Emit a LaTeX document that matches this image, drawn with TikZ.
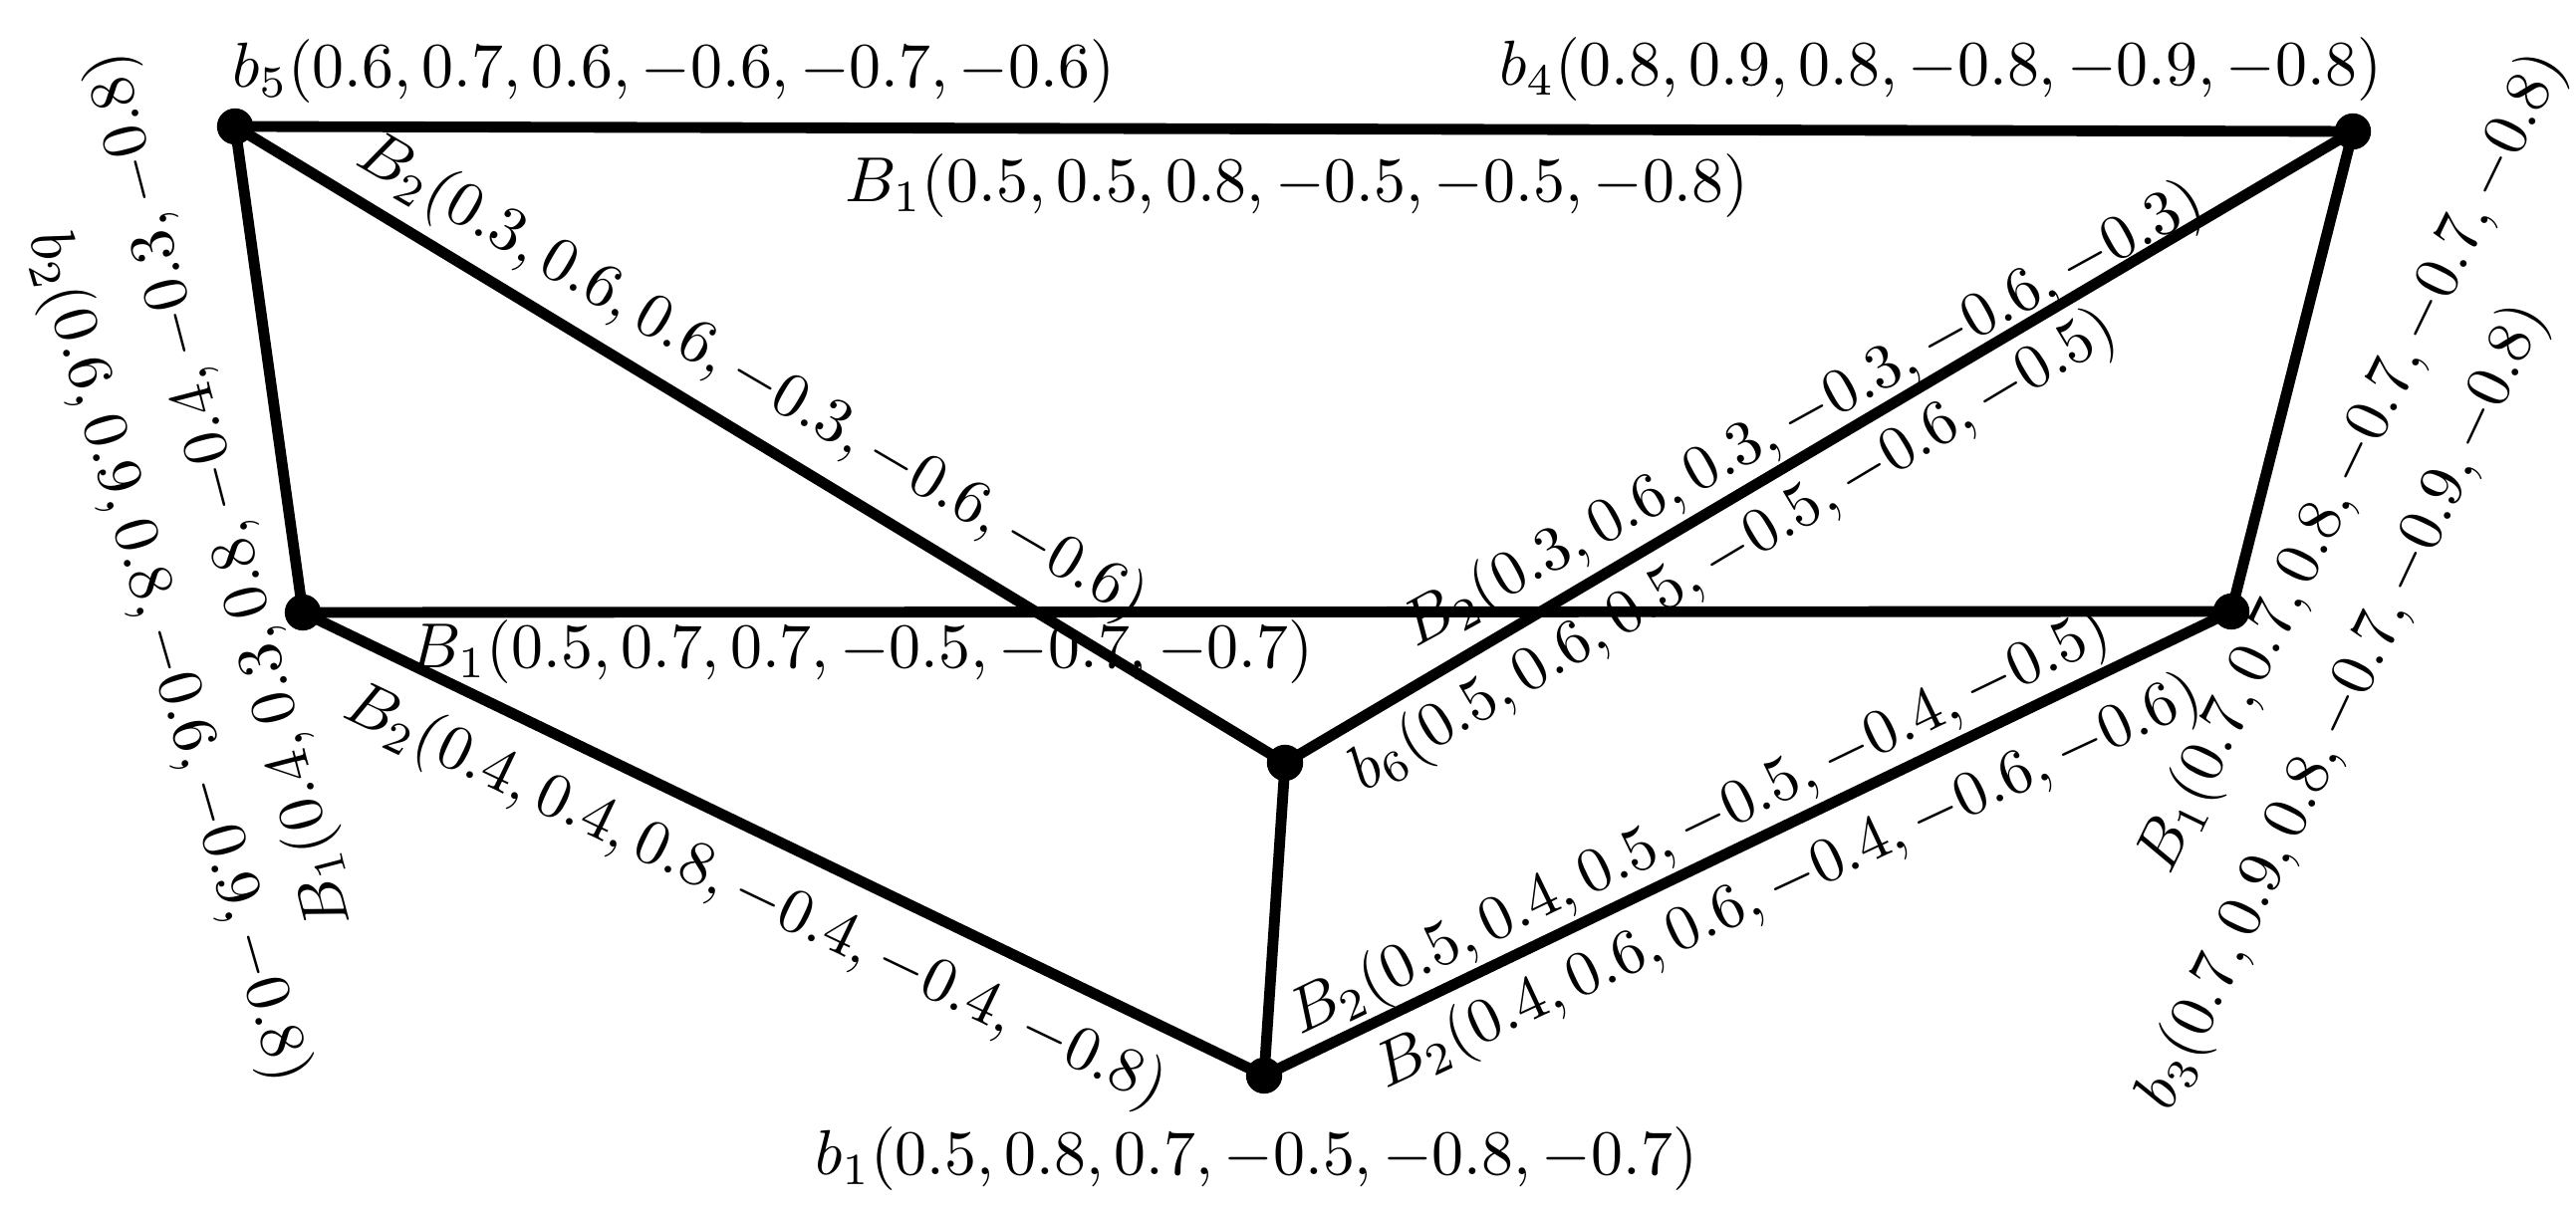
\documentclass[tikz,border=0pt]{standalone}
\begin{document}
\begin{tikzpicture}[x=0.1567pt,y=-0.1567pt,
  edge/.style={line width=1.7pt},
  dot/.style={circle,fill=black,inner sep=0pt,minimum size=5.7pt},
  lab/.style={inner sep=0pt}]
\useasboundingbox (0,0) rectangle (2586,1214);
% vertices
\node[dot] (b5) at (236,127) {};
\node[dot] (b4) at (2362,132) {};
\node[dot] (b2) at (304,615) {};
\node[dot] (b3) at (2240,614) {};
\node[dot] (b6) at (1290,766) {};
\node[dot] (b1) at (1269,1080) {};
% edges
\draw[edge] (b5.center) -- (b4.center);
\draw[edge] (b5.center) -- (b2.center);
\draw[edge] (b5.center) -- (b6.center);
\draw[edge] (b4.center) -- (b6.center);
\draw[edge] (b4.center) -- (b3.center);
\draw[edge] (b2.center) -- (b3.center);
\draw[edge] (b2.center) -- (b1.center);
\draw[edge] (b1.center) -- (b6.center);
\draw[edge] (b1.center) -- (b3.center);
% vertex labels
\node[lab] (l5) at (676,72) {$b_5(0.6, 0.7, 0.6, -0.6, -0.7, -0.6)$};
\node[lab] (l4) at (1948,70) {$b_4(0.8, 0.9, 0.8, -0.8, -0.9, -0.8)$};
\node[lab] (l1) at (1261,1164) {$b_1(0.5, 0.8, 0.7, -0.5, -0.8, -0.7)$};
\node[lab,rotate=30.9] (l6) at (1741,554) {$b_6(0.5, 0.6, 0.5, -0.5, -0.6, -0.5)$};
\node[lab,rotate=-73.9] (l2) at (168,660) {$b_2(0.6, 0.9, 0.8, -0.6, -0.9, -0.8)$};
\node[lab,rotate=64.8] (l3) at (2353,710) {$b_3(0.7, 0.9, 0.8, -0.7, -0.9, -0.8)$};
% edge labels
\node[lab] (e54) at (1302,187) {$B_1(0.5, 0.5, 0.8, -0.5, -0.5, -0.8)$};
\node[lab,rotate=-30.4] (e56) at (755,380) {$B_2(0.3, 0.6, 0.6, -0.3, -0.6, -0.6)$};
\node[lab,rotate=28.8] (e46) at (1811,418) {$B_2(0.3, 0.6, 0.3, -0.3, -0.6, -0.3)$};
\node[lab] (e23) at (865,655) {$B_1(0.5, 0.7, 0.7, -0.5, -0.7, -0.7)$};
\node[lab,rotate=-25.6] (e21) at (758,901) {$B_2(0.4, 0.4, 0.8, -0.4, -0.4, -0.8)$};
\node[lab,rotate=25.8] (e13a) at (1707,828) {$B_2(0.5, 0.4, 0.5, -0.5, -0.4, -0.5)$};
\node[lab,rotate=25.0] (e13b) at (1796,887) {$B_2(0.4, 0.6, 0.6, -0.4, -0.6, -0.6)$};
\node[lab,rotate=104.6] (e52) at (222,492) {$B_1(0.4, 0.3, 0.8, -0.4, -0.3, -0.8)$};
\node[lab,rotate=64.1] (e43) at (2362,465) {$B_1(0.7, 0.7, 0.8, -0.7, -0.7, -0.8)$};
\end{tikzpicture}
\end{document}
